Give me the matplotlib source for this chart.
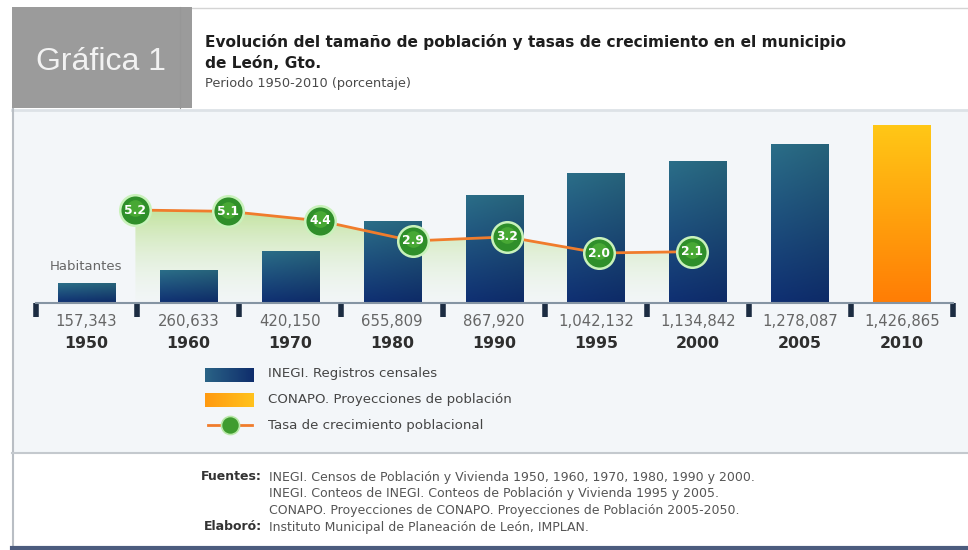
import matplotlib
matplotlib.use('Agg')
import matplotlib.pyplot as plt
import numpy as np
from matplotlib.patches import Rectangle

# ---------------- data ----------------
years = ['1950', '1960', '1970', '1980', '1990', '1995', '2000', '2005', '2010']
population = [157343, 260633, 420150, 655809, 867920, 1042132, 1134842, 1278087, 1426865]
source = ['INEGI', 'INEGI', 'INEGI', 'INEGI', 'INEGI', 'INEGI', 'INEGI', 'INEGI', 'CONAPO']
rates = [5.2, 5.1, 4.4, 2.9, 3.2, 2.0, 2.1]
rate_labels = ['5.2', '5.1', '4.4', '2.9', '3.2', '2.0', '2.1']

# layout (category units) for the growth-rate points
rate_pos = [0.48, 1.39, 2.29, 3.20, 4.13, 5.03, 5.94]

W, H = 968, 550
fig = plt.figure(figsize=(W / 100, H / 100), dpi=100)
fig.patch.set_facecolor('white')

# ---------------- background / frame (pixel coords) ----------------
bg = fig.add_axes([0, 0, 1, 1])
bg.set_xlim(0, W)
bg.set_ylim(H, 0)
bg.axis('off')

bg.add_patch(Rectangle((12, 110), W - 12, 342, fc='#f3f6f9', ec='none', zorder=0))
bg.plot([12, W], [109.5, 109.5], color='#dde2e7', lw=2, zorder=1)
bg.plot([192, W], [8, 8], color='#d4d4d4', lw=1, zorder=1)
bg.plot([12.5, 12.5], [108, 548], color='#b9bec4', lw=1.5, zorder=1)
bg.plot([12, W], [452.5, 452.5], color='#c4c9ce', lw=1.5, zorder=1)
bg.plot([12, W], [547.5, 547.5], color='#4c5c7e', lw=3, zorder=1)
bg.add_patch(Rectangle((12, 7), 180, 101, fc='#9b9b9b', ec='none', zorder=2))
bg.plot([180, 180], [7, 108], color='#979797', lw=0.8, zorder=2)
bg.text(101, 62, 'Gráfica 1', color='#f2f2f2', fontsize=23, family='Liberation Sans',
        ha='center', va='center', zorder=3)

bg.text(205, 42, 'Evolución del tamaño de población y tasas de crecimiento en el municipio',
        fontsize=11.1, fontweight='bold', color='#1e1e1e', va='center')
bg.text(205, 63, 'de León, Gto.', fontsize=11.1, fontweight='bold', color='#1e1e1e', va='center')
bg.text(205, 83, 'Periodo 1950-2010 (porcentaje)', fontsize=9.3, color='#4a4a4a', va='center')

# legend
def hgrad(c1, c2, n=64):
    c1 = np.array(matplotlib.colors.to_rgb(c1))
    c2 = np.array(matplotlib.colors.to_rgb(c2))
    t = np.linspace(0, 1, n)[None, :, None]
    return c1 + (c2 - c1) * t

bg.imshow(hgrad('#2a6386', '#0f2d6c'), extent=(205, 254, 382, 368), aspect='auto', zorder=3)
bg.imshow(hgrad('#ff9a10', '#ffc21e'), extent=(205, 254, 407, 393), aspect='auto', zorder=3)
bg.plot([208, 252], [425, 425], color='#f07c2c', lw=2, zorder=3)
bg.plot([230], [425], marker='o', ms=13, color='#3f9c2f', mec='#b8e8a8', mew=1.2, zorder=4)
bg.set_xlim(0, W)
bg.set_ylim(H, 0)
for txt, yy in [('INEGI. Registros censales', 374), ('CONAPO. Proyecciones de población', 399),
                ('Tasa de crecimiento poblacional', 425)]:
    bg.text(268, yy, txt, fontsize=9.6, color='#454545', va='center')

# footer
fs = 9.0
bg.text(262, 477, 'Fuentes:', fontsize=fs, fontweight='bold', color='#333', ha='right', va='center')
bg.text(262, 527, 'Elaboró:', fontsize=fs, fontweight='bold', color='#333', ha='right', va='center')
foot = ['INEGI. Censos de Población y Vivienda 1950, 1960, 1970, 1980, 1990 y 2000.',
        'INEGI. Conteos de INEGI. Conteos de Población y Vivienda 1995 y 2005.',
        'CONAPO. Proyecciones de CONAPO. Proyecciones de Población 2005-2050.',
        'Instituto Municipal de Planeación de León, IMPLAN.']
for i, t in enumerate(foot):
    bg.text(269, 477 + 16.7 * i, t, fontsize=fs, color='#555', va='center')

# ---------------- data axes ----------------
rect = [12 / W, (H - 455) / H, (W - 12) / W, 345 / H]
step = 101.9
c0 = 86.5
xlim = ((12 - c0) / step, (W - c0) / step)
k = 1426865 / 178.0
ylim_pop = (-(455 - 303) * k, (303 - 110) * k)
r0, rs = 279.9, 13.44
ylim_rate = ((r0 - 455) / rs, (r0 - 110) / rs)
base_rate = (r0 - 303) / rs

# fill axes (below bars)
axf = fig.add_axes(rect)
axf.set_facecolor('none')
axf.set_xlim(*xlim)
axf.set_ylim(*ylim_rate)
axf.axis('off')
poly = axf.fill_between(rate_pos, rates, base_rate, color='none', lw=0)
n = 128
top_c = np.array([196, 228, 160]) / 255
bot_c = np.array([240, 246, 242]) / 255
t = np.linspace(1, 0, n)[:, None, None]
grad = np.concatenate([bot_c + (top_c - bot_c) * t, (0.25 + 0.75 * t)], axis=2)
grad = np.repeat(grad, 4, axis=1)
im = axf.imshow(grad, extent=(rate_pos[0], rate_pos[-1], base_rate, max(rates)),
                aspect='auto', zorder=1)
im.set_clip_path(poly.get_paths()[0], transform=axf.transData)
axf.set_xlim(*xlim)
axf.set_ylim(*ylim_rate)

# bars axes
ax = fig.add_axes(rect)
ax.set_facecolor('none')
x = np.arange(len(years))
colors = ['#1a4a78' if s == 'INEGI' else '#ffa010' for s in source]
bars = ax.bar(x, population, width=0.56, color=colors, zorder=2)


def vgrad(top, bottom, n=100, m=20, shade=0.12):
    top = np.array(matplotlib.colors.to_rgb(top))
    bottom = np.array(matplotlib.colors.to_rgb(bottom))
    tv = np.linspace(1, 0, n)[:, None, None]
    g = bottom + (top - bottom) * tv
    g = np.repeat(g, m, axis=1)
    hs = 1 - shade * np.linspace(0, 1, m)[None, :, None]
    return np.clip(g * hs, 0, 1)


for b, s in zip(bars, source):
    x0, w, h = b.get_x(), b.get_width(), b.get_height()
    if s == 'INEGI':
        g = vgrad('#2b6e88', '#0f2f72', shade=0.1)
    else:
        g = vgrad('#ffc716', '#ff7d05', shade=0.0)
    gi = ax.imshow(g, extent=(x0, x0 + w, 0, h), aspect='auto', zorder=3)
    gi.set_clip_path(b)

ax.set_xlim(*xlim)
ax.set_ylim(*ylim_pop)
for sp in ['top', 'right', 'left']:
    ax.spines[sp].set_visible(False)
ax.spines['bottom'].set_position(('data', 0))
ax.spines['bottom'].set_bounds(-0.5, len(years) - 0.5)
ax.spines['bottom'].set_color('#8594a3')
ax.spines['bottom'].set_linewidth(1.5)
ax.spines['bottom'].set_zorder(4)
ax.set_xticks(np.arange(-0.5, len(years), 1.0))
ax.set_xticklabels([])
ax.tick_params(axis='x', length=10, width=4, color='#1c2c42', direction='out')
ax.set_yticks([])

tr = ax.get_xaxis_transform()
for i, (v, yr) in enumerate(zip(population, years)):
    ax.text(i, (455 - 322) / 345, f'{v:,}', transform=tr, ha='center', va='center',
            fontsize=10.7, color='#666666')
    ax.text(i, (455 - 343) / 345, yr, transform=tr, ha='center', va='center',
            fontsize=11.3, fontweight='bold', color='#2e2e2e')
ax.text(0, (455 - 267) / 345, 'Habitantes', transform=tr, ha='center', va='center',
        fontsize=9.5, color='#666666')

# rate axes (on top)
ax2 = fig.add_axes(rect)
ax2.set_facecolor('none')
ax2.axis('off')
ax2.plot(rate_pos, rates, color='#f07c2c', lw=2, zorder=5, solid_capstyle='round')
ax2.plot(rate_pos, rates, 'o', ms=22, color='#2f8f2a', mec='#c9f2bb', mew=1.8, zorder=6)
ax2.plot(rate_pos, [r + 0.12 for r in rates], 'o', ms=12, color='#5cbd3d', mec='none',
         alpha=0.55, zorder=6)
for xp, r, lab in zip(rate_pos, rates, rate_labels):
    ax2.text(xp, r, lab, ha='center', va='center', fontsize=8.8, fontweight='bold',
             color='white', zorder=7)
ax2.set_xlim(*xlim)
ax2.set_ylim(*ylim_rate)

fig.savefig('out.png', dpi=100, facecolor='white')
